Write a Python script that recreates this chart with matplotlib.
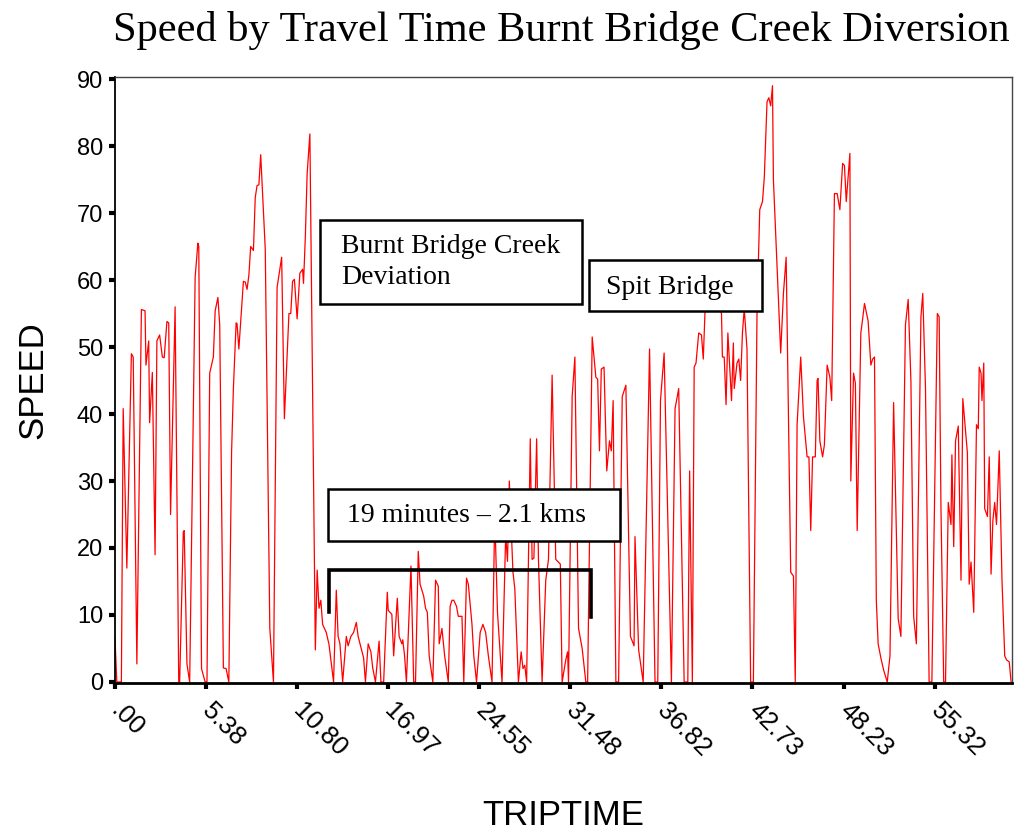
import matplotlib
matplotlib.use("Agg")
import matplotlib.pyplot as plt
from matplotlib.patches import Rectangle
from matplotlib.lines import Line2D
from matplotlib.transforms import ScaledTranslation

# ---------------- data ----------------
record_no = [
    0, 2, 7, 9, 13, 18, 20, 24, 29, 33, 34, 37, 38, 41, 44, 46, 49, 52, 54, 57,
    59, 61, 66, 70, 71, 75, 76, 79, 82, 88, 91, 92, 95, 99, 101, 104, 108, 110, 113, 115,
    119, 122, 125, 128, 130, 133, 134, 136, 141, 143, 145, 147, 149, 152, 154, 156, 158, 160, 165, 170,
    174, 178, 183, 186, 191, 193, 195, 197, 200, 203, 206, 207, 209, 211, 214, 220, 222, 224, 226, 228,
    232, 235, 240, 243, 245, 247, 250, 254, 256, 259, 262, 265, 267, 273, 275, 278, 281, 283, 286, 290,
    292, 295, 299, 300, 304, 306, 310, 312, 315, 316, 318, 320, 325, 328, 330, 333, 335, 339, 341, 343,
    345, 349, 352, 355, 356, 359, 362, 366, 368, 370, 372, 375, 377, 381, 383, 386, 388, 392, 394, 397,
    401, 404, 407, 410, 414, 417, 420, 425, 429, 431, 433, 437, 439, 443, 446, 448, 450, 452, 456, 458,
    460, 463, 465, 469, 473, 476, 480, 484, 489, 491, 495, 497, 498, 502, 505, 509, 513, 517, 519, 524,
    528, 530, 532, 534, 537, 540, 543, 545, 547, 550, 553, 557, 561, 566, 570, 571, 575, 580, 587, 593,
    596, 599, 603, 611, 615, 619, 625, 629, 631, 634, 636, 638, 641, 644, 646, 648, 653, 659, 666, 667,
    669, 671, 673, 677, 679, 680, 683, 685, 687, 689, 691, 694, 698, 701, 705, 708, 711, 713, 716, 718,
    720, 722, 723, 731, 734, 737, 742, 745, 747, 749, 753, 756, 760, 762, 764, 766, 769, 771, 772, 774,
    777, 779, 782, 785, 787, 790, 793, 796, 799, 801, 803, 807, 808, 811, 813, 815, 819, 821, 823, 827,
    830, 832, 834, 836, 838, 841, 844, 848, 851, 855, 860, 863, 868, 871, 874, 877, 880, 885, 887, 890,
    894, 897, 903, 905, 907, 910, 912, 915, 918, 919, 921, 923, 926, 929, 931, 936, 938, 940, 943, 946,
    948, 949, 951, 952, 954, 955, 958, 960, 962, 964, 966, 968, 971, 974, 977, 979, 982, 984,
]
speed = [
    6.5, 0, 0, 40.8, 17, 49, 48.5, 2.7, 55.6, 55.4, 47.3, 50.9, 38.7, 46.2, 19, 50.9, 51.8, 48.5, 48.4, 53.8,
    53.6, 25, 56, 0, 0, 22.4, 22.6, 2.7, 0, 60.4, 65.5, 65, 2, 0, 0, 46.1, 48.5, 55.4, 57.4, 53.3,
    2.1, 2, 0, 34.2, 43.8, 53.6, 53.5, 49.7, 59.8, 59.7, 58.6, 60.7, 65, 64.4, 72.3, 74.1, 74.2, 78.7, 64.6, 8,
    0, 58.9, 63.4, 39.3, 55, 55, 59.8, 60.1, 54.2, 61, 61.6, 59.5, 66.4, 75.9, 81.8, 4.8, 16.7, 11, 12.2, 8.6,
    7.4, 5.6, 0, 13.7, 6.8, 5.7, 0, 6.8, 5.4, 6.8, 7.4, 8.9, 6.8, 3.6, 0, 5.7, 4.5, 2.1, 0, 6.1,
    0, 0, 13.4, 10.7, 10.1, 3.9, 12.5, 6.8, 5.7, 6.3, 3.9, 0, 17.3, 0, 0, 19.5, 14.6, 12.8, 11, 10.4,
    3.9, 0, 15.2, 14.3, 5.7, 8, 3.9, 0, 11.3, 12.2, 12.2, 11.3, 9.8, 9.8, 0, 15.5, 14.6, 8.6, 3.9, 0,
    7.4, 8.6, 7.4, 3.9, 0, 25, 10.4, 0, 22, 18, 30, 16.4, 14, 0, 4.5, 2, 2.5, 0, 36.3, 18.3,
    18.5, 36.3, 18.3, 0, 15.2, 18.3, 45.8, 18.3, 17.6, 0, 3.3, 4.5, 0, 42.6, 48.5, 8, 5, 0, 0, 51.5,
    45.5, 45.2, 34.5, 46.7, 47, 31.5, 36, 34.5, 42, 0, 0, 42.6, 44.3, 6.8, 5.4, 21.7, 4.8, 0, 49.7, 0,
    0, 42, 49.1, 0, 40.8, 43.8, 0, 0, 31.5, 0, 47, 47.6, 52.1, 51.8, 48.2, 55.7, 60, 57, 55, 48.5,
    48.5, 41.4, 52.1, 42, 50.6, 43.8, 47.6, 48.2, 45, 52.1, 55.7, 49.7, 0, 0, 55, 70.5, 71.7, 75.3, 86.6, 87.2,
    86, 89, 75, 49.1, 58, 63.4, 16.4, 15.8, 0, 38.4, 48.5, 39.6, 33.6, 33.6, 22.6, 33.6, 33.6, 45, 45.3, 36,
    33.6, 35.4, 47.3, 45.5, 42, 72.9, 72.9, 70.5, 77.4, 77.1, 71.7, 78.9, 30, 46.1, 44.6, 22.6, 52.1, 54.2, 56.5, 53.9,
    47.3, 48.2, 48.5, 12.2, 5.7, 3.6, 1.8, 0, 3.9, 41.7, 9.5, 6.8, 53.3, 57.1, 44.9, 9.8, 5.7, 54.5, 58, 43.8,
    0, 0, 55, 54.5, 25.9, 0, 0, 26.8, 23.5, 33.9, 20.2, 36, 38.2, 15.2, 42.3, 34.2, 14.6, 17.9, 10.4, 38.4,
    37.8, 47, 46.1, 42, 47.6, 25.9, 24.7, 33.6, 16.1, 24.1, 26.8, 23.5, 34.5, 15.2, 3.9, 3.3, 3, 0,
]
tick_records = [0, 100, 200, 300, 400, 500, 600, 700, 800, 900]
tick_labels = [".00", "5.38", "10.80", "16.97", "24.55", "31.48", "36.82", "42.73", "48.23", "55.32"]
y_ticks = [0, 10, 20, 30, 40, 50, 60, 70, 80, 90]

title = "Speed by Travel Time Burnt Bridge Creek Diversion"
SANS = ["Liberation Sans", "DejaVu Sans"]
SERIF = ["Liberation Serif", "DejaVu Serif"]

W, H = 1015, 830
fig = plt.figure(figsize=(W / 100, H / 100), dpi=100)
fig.patch.set_facecolor("white")


def fx(x):
    return x / W


def fy(y):
    return 1 - y / H


ax = fig.add_axes([fx(115), fy(683), 897 / W, 606 / H])
ax.plot(record_no, speed, color="#ff0000", lw=0.9, zorder=2)
ax.set_xlim(0, 985)
ax.set_ylim(-0.15, 90.3)

for s in ("left", "bottom"):
    ax.spines[s].set_color("black")
    ax.spines[s].set_linewidth(1.3)
ax.spines["bottom"].set_linewidth(2.0)
for s in ("top", "right"):
    ax.spines[s].set_color("#444444")
    ax.spines[s].set_linewidth(1.0)

ax.set_xticks(tick_records)
ax.set_xticklabels(tick_labels, rotation=-45, ha="left", va="center",
                   rotation_mode="anchor", fontsize=18.5, family=SANS)
shift = ScaledTranslation(6 / 100, 0, fig.dpi_scale_trans)
for lab in ax.get_xticklabels():
    lab.set_transform(lab.get_transform() + shift)
ax.set_yticks(y_ticks)
ax.set_yticklabels([str(v) for v in y_ticks], fontsize=17, family=SANS)
ax.tick_params(axis="x", direction="out", length=4, width=3, pad=13)
ax.tick_params(axis="y", direction="out", length=4.5, width=3, pad=4)

fig.text(fx(33), fy(380), "SPEED", rotation=90, fontsize=25, family=SANS,
         ha="center", va="center")
fig.text(fx(563), fy(815), "TRIPTIME", fontsize=25, family=SANS,
         ha="center", va="center")
fig.text(fx(561), fy(30), title, fontsize=30.5, family=SERIF,
         ha="center", va="center")


def box(x0, y0, x1, y1):
    r = Rectangle((fx(x0), fy(y1)), (x1 - x0) / W, (y1 - y0) / H,
                  transform=fig.transFigure, facecolor="white",
                  edgecolor="black", lw=1.8, zorder=5)
    fig.patches.append(r)


box(320, 220, 582, 304)
fig.text(fx(341), fy(262), "Burnt Bridge Creek\nDeviation", fontsize=20,
         family=SERIF, ha="left", va="center", linespacing=1.35, zorder=6)
box(589, 260, 762, 311)
fig.text(fx(606), fy(287), "Spit Bridge", fontsize=20, family=SERIF,
         ha="left", va="center", zorder=6)
box(328, 489, 620, 541)
fig.text(fx(347), fy(516), "19 minutes \u2013 2.1 kms", fontsize=20,
         family=SERIF, ha="left", va="center", zorder=6)

# bracket marking the diversion
bracket = Line2D([fx(329), fx(329), fx(591), fx(591)],
                 [fy(612), fy(570), fy(570), fy(617)],
                 transform=fig.transFigure, color="black", lw=2.6,
                 solid_joinstyle="miter", zorder=6)
fig.lines.append(bracket)

fig.savefig("out.png", dpi=100)
